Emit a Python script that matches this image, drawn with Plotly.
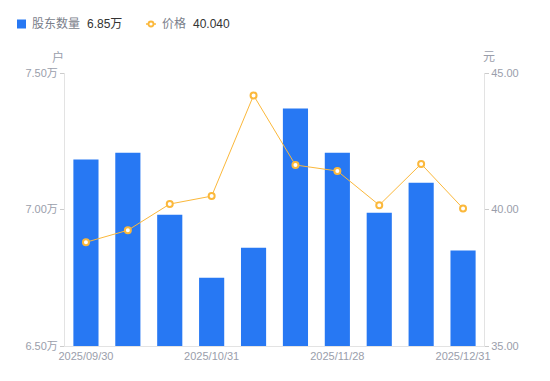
import plotly.graph_objects as go

dates = ["2025/09/30", "2025/10/10", "2025/10/20", "2025/10/31", "2025/11/10",
         "2025/11/20", "2025/11/28", "2025/12/10", "2025/12/20", "2025/12/31"]
holders = [71830, 72080, 69810, 67500, 68600, 73700, 72080, 69880, 70980, 68500]
prices = [38.80, 39.24, 40.20, 40.49, 44.18, 41.63, 41.41, 40.16, 41.67, 40.04]
x_ticks = ["2025/09/30", "2025/10/31", "2025/11/28", "2025/12/31"]
left_vals = [65000, 70000, 75000]
left_text = ["6.50万", "7.00万", "7.50万"]
right_vals = [35, 40, 45]
right_text = ["35.00", "40.00", "45.00"]
legend_names = ["股东数量", "价格"]
legend_values = ["6.85万", "40.040"]

gray = "#9a9eab"
bar_color = "#2778F3"
line_color = "#FBB83B"
font_fam = "Liberation Sans, Arial, Noto Sans CJK SC, sans-serif"

# plot area in pixels
L, R, T, B = 65, 484, 73, 346
W, H = R - L, B - T


def px(x):
    return (x - L) / W


def py(y):
    return (B - y) / H


fig = go.Figure()
fig.add_trace(go.Bar(
    x=dates, y=holders, name=legend_names[0],
    marker=dict(color=bar_color, line=dict(width=0)), width=0.6, yaxis="y"))
fig.add_trace(go.Scatter(
    x=dates, y=prices, name=legend_names[1],
    mode="lines+markers", yaxis="y2",
    line=dict(color=line_color, width=1),
    marker=dict(symbol="circle", size=6, color="white", line=dict(color=line_color, width=2))))

fig.update_layout(
    width=550, height=381,
    margin=dict(l=L, r=550 - R, t=T, b=381 - B),
    paper_bgcolor="white", plot_bgcolor="white",
    font=dict(family=font_fam, size=11, color=gray),
    showlegend=False,
    xaxis=dict(type="category", range=[-0.5, len(dates) - 0.5],
               tickmode="array", tickvals=x_ticks, ticktext=x_ticks,
               showgrid=False, showline=True, linecolor="#e3e3e3", linewidth=1,
               ticks="", tickfont=dict(size=11, color=gray), zeroline=False),
    yaxis=dict(range=[65000, 75000], tickmode="array", tickvals=left_vals, ticktext=left_text,
               showgrid=False, showline=True, linecolor="#e3e3e3", linewidth=1,
               ticks="outside", ticklen=4, tickcolor="#cccccc",
               tickfont=dict(size=11, color=gray), zeroline=False),
    yaxis2=dict(range=[35, 45], overlaying="y", side="right", tickmode="array",
                tickvals=right_vals, ticktext=right_text,
                showgrid=False, showline=True, linecolor="#e3e3e3", linewidth=1,
                ticks="outside", ticklen=4, tickcolor="#cccccc",
                tickfont=dict(size=11, color=gray), zeroline=False),
)

# axis unit labels
fig.add_annotation(text="户", xref="paper", yref="paper", x=px(58), y=py(57),
                   showarrow=False, font=dict(size=12, color=gray), xanchor="center", yanchor="middle")
fig.add_annotation(text="元", xref="paper", yref="paper", x=px(489), y=py(57),
                   showarrow=False, font=dict(size=12, color=gray), xanchor="center", yanchor="middle")

# custom legend
ly = 24
fig.add_shape(type="rect", xref="paper", yref="paper", x0=px(17), x1=px(26), y0=py(28.5), y1=py(19.5),
              fillcolor=bar_color, line=dict(width=0))
fig.add_annotation(text=legend_names[0], xref="paper", yref="paper", x=px(30), y=py(ly),
                   xanchor="left", yanchor="middle", showarrow=False,
                   font=dict(size=12, color="#7a7e8a"))
fig.add_annotation(text=legend_values[0], xref="paper", yref="paper", x=px(85), y=py(ly),
                   xanchor="left", yanchor="middle", showarrow=False,
                   font=dict(size=12, color="#333333"))
fig.add_shape(type="line", xref="paper", yref="paper", x0=px(146), x1=px(156), y0=py(ly), y1=py(ly),
              line=dict(color=line_color, width=1.5))
fig.add_shape(type="circle", xref="paper", yref="paper", x0=px(148.5), x1=px(153.5), y0=py(26.5), y1=py(21.5),
              fillcolor="white", line=dict(color=line_color, width=1.8))
fig.add_annotation(text=legend_names[1], xref="paper", yref="paper", x=px(160), y=py(ly),
                   xanchor="left", yanchor="middle", showarrow=False,
                   font=dict(size=12, color="#7a7e8a"))
fig.add_annotation(text=legend_values[1], xref="paper", yref="paper", x=px(191), y=py(ly),
                   xanchor="left", yanchor="middle", showarrow=False,
                   font=dict(size=12, color="#333333"))

fig.write_html("out.html")
